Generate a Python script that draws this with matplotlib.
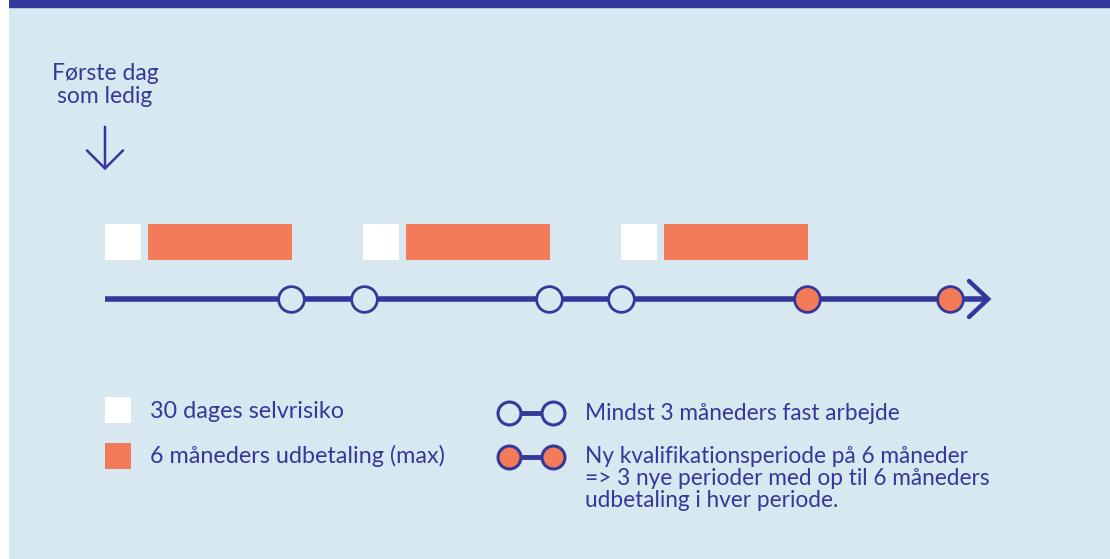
import matplotlib
matplotlib.use("Agg")
import matplotlib.pyplot as plt

plt.rcParams["font.family"] = ["Lato", "DejaVu Sans"]

# Farver
BLUE = "#35389a"
ORANGE = "#f37b5a"
PANEL = "#d8e8f1"

# Skematisk tidsakse (enhed: måneder fra første dag som ledig)
selvrisiko_start = [0, 10.75, 21.5]
selvrisiko_len = [1.5, 1.5, 1.5]
udbetaling_start = [1.8, 12.55, 23.3]
udbetaling_len = [6, 6, 6]
arbejde_punkter = [7.75, 10.8, 18.5, 21.5]
kvalifikation_punkter = [29.25, 35.2]
akse_slut = 36.8

start_label = "Første dag\nsom ledig"
legend_labels = [
    "30 dages selvrisiko",
    "6 måneders udbetaling (max)",
    "Mindst 3 måneders fast arbejde",
    "Ny kvalifikationsperiode på 6 måneder\n=> 3 nye perioder med op til 6 måneders\nudbetaling i hver periode.",
]

fig = plt.figure(figsize=(11.1, 5.59), dpi=100, facecolor="white")
ax = fig.add_axes([9 / 1110, 0, 1 - 9 / 1110, 1])
ax.set_facecolor(PANEL)
ax.set_xlim(-4, 41.875)
ax.set_ylim(559, 0)
ax.set_xticks([])
ax.set_yticks([])
for s in ax.spines.values():
    s.set_visible(False)
ax.add_patch(plt.Rectangle((-4, 0), 50, 7, color=BLUE, zorder=1))

# perioder
ax.barh(242, selvrisiko_len, left=selvrisiko_start, height=36, color="white", zorder=2)
ax.barh(242, udbetaling_len, left=udbetaling_start, height=36, color=ORANGE, zorder=2)

# tidsakse med pil
ax.plot([0, akse_slut], [299, 299], color=BLUE, lw=4, solid_capstyle="butt", zorder=3)
ax.plot([akse_slut - 0.8, akse_slut, akse_slut - 0.8], [281, 299, 317], color=BLUE,
        lw=3.2, solid_capstyle="round", solid_joinstyle="miter", zorder=3)
ax.plot(arbejde_punkter, [299] * len(arbejde_punkter), "o", ms=18.5, mfc=PANEL,
        mec=BLUE, mew=2, zorder=4)
ax.plot(kvalifikation_punkter, [299] * len(kvalifikation_punkter), "o", ms=18.5,
        mfc=ORANGE, mec=BLUE, mew=2, zorder=4)

# første dag
ax.text(0, 85, start_label, ha="center", va="center", color=BLUE, fontsize=16.5,
        linespacing=1.08)
ax.annotate("", xy=(0, 173), xytext=(0, 124),
            arrowprops=dict(arrowstyle="->,head_length=1.3,head_width=1.3",
                            color=BLUE, lw=1.8))

# legende
ax.barh([410, 455.5], [1.08, 1.08], left=0, height=26, color=["white", ORANGE])
ax.text(1.875, 411, legend_labels[0], va="center", color=BLUE, fontsize=16.8)
ax.text(1.875, 456, legend_labels[1], va="center", color=BLUE, fontsize=16.8)

lx = [16.85, 18.65]
ax.plot(lx, [413, 413], color=BLUE, lw=3.5, zorder=3)
ax.plot(lx, [413, 413], "o", ms=16.5, mfc=PANEL, mec=BLUE, mew=2.2, zorder=4)
ax.plot(lx, [457, 457], color=BLUE, lw=3.5, zorder=3)
ax.plot(lx, [457, 457], "o", ms=16.5, mfc=ORANGE, mec=BLUE, mew=2.2, zorder=4)
ax.text(20.0, 413, legend_labels[2], va="center", color=BLUE, fontsize=16.3)
ax.text(20.0, 446, legend_labels[3], va="top", color=BLUE, fontsize=16.3,
        linespacing=1.06)

fig.savefig("out.png", dpi=100, facecolor="white")
